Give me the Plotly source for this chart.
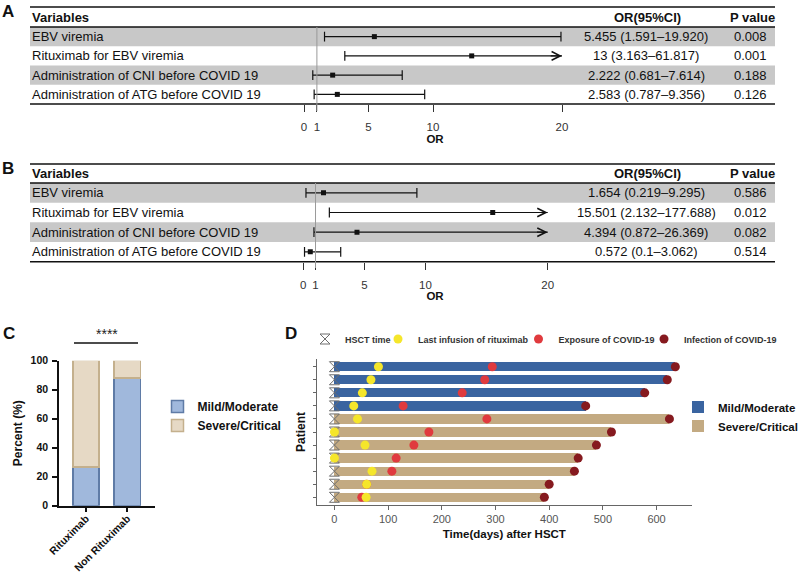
import plotly.graph_objects as go

W, H = 800, 573
FONT = "Liberation Sans, Arial, Helvetica, sans-serif"

###### Data #######
# A / B : odds ratios (forest plots)
variables = ["EBV viremia",
             "Rituximab for EBV viremia",
             "Administration of CNI before COVID 19",
             "Administration of ATG before COVID 19"]

a_or = [5.455, 13, 2.222, 2.583]
a_lo = [1.591, 3.163, 0.681, 0.787]
a_hi = [19.920, 61.817, 7.614, 9.356]
a_ci_text = ["5.455 (1.591\u201319.920)", "13 (3.163\u201361.817)",
             "2.222 (0.681\u20137.614)", "2.583 (0.787\u20139.356)"]
a_p = ["0.008", "0.001", "0.188", "0.126"]

b_or = [1.654, 15.501, 4.394, 0.572]
b_lo = [0.219, 2.132, 0.872, 0.1]
b_hi = [9.295, 177.688, 26.369, 3.062]
b_ci_text = ["1.654 (0.219\u20139.295)", "15.501 (2.132\u2013177.688)",
             "4.394 (0.872\u201326.369)", "0.572 (0.1\u20133.062)"]
b_p = ["0.586", "0.012", "0.082", "0.514"]

or_ticks = [0, 1, 5, 10, 20]
or_cap = 20

# C : severity by rituximab (percent)
c_groups = ["Rituximab", "Non Rituximab"]
c_mild = [26.7, 88.0]
c_severe = [73.3, 12.0]

# D : patient timelines (days after HSCT)
d_patient = list(range(1, 12))
d_severity = ["Mild/Moderate"] * 4 + ["Severe/Critical"] * 7
d_hsct = [0] * 11
d_rituximab = [82, 68, 52, 36, 43, 0, 57, 0, 70, 60, 59]
d_exposure = [294, 280, 238, 128, 284, 176, 148, 115, 107, 60, 51]
d_infection = [635, 620, 578, 468, 624, 516, 488, 454, 447, 400, 391]


def fx(p):
    return p / W


def fy(p):
    return 1 - p / H


def note(x, y, text, font, xref="paper", yref="paper", xanchor="center"):
    return dict(x=x, y=y, xref=xref, yref=yref, text=text, showarrow=False,
                xanchor=xanchor, yanchor="middle", font=font)


fig = go.Figure()
shapes = []
annotations = []
letter_font = dict(family=FONT, size=17, color="#111", weight="bold")

###### Forest plots #######
def forest(xa, ya, ors, los, his, ci_text, pvals, top, head_line, bottom, tick_bottom, letter):
    rows = list(range(1, len(ors) + 1))
    xs, ys = [], []
    for lo, hi, r in zip(los, his, rows):
        xs += [lo, min(hi, or_cap), None]
        ys += [r, r, None]
    fig.add_trace(go.Scatter(x=xs, y=ys, mode="lines", xaxis=xa, yaxis=ya,
                             line=dict(color="#111", width=1.2),
                             showlegend=False, hoverinfo="skip"))
    cap_x = los + [h for h in his if h <= or_cap]
    cap_y = rows + [r for h, r in zip(his, rows) if h <= or_cap]
    fig.add_trace(go.Scatter(x=cap_x, y=cap_y, mode="markers", xaxis=xa, yaxis=ya,
                             marker=dict(symbol="line-ns", size=7,
                                         line=dict(color="#111", width=1.2)),
                             showlegend=False, hoverinfo="skip"))
    fig.add_trace(go.Scatter(x=ors, y=rows, mode="markers", xaxis=xa, yaxis=ya,
                             marker=dict(symbol="square", size=5, color="#111"),
                             showlegend=False, hoverinfo="skip"))
    for hi, r in zip(his, rows):
        if hi > or_cap:
            annotations.append(dict(x=or_cap, y=r, ax=or_cap - 1, ay=r,
                                    xref=xa, yref=ya, axref=xa, ayref=ya,
                                    text="", showarrow=True, arrowhead=5,
                                    arrowsize=1.4, arrowwidth=1.2,
                                    arrowcolor="#111", standoff=0))
    # row shading
    for r in rows:
        if r % 2 == 1:
            shapes.append(dict(type="rect", xref="paper", yref=ya,
                               x0=fx(30), x1=fx(775), y0=r - 0.5, y1=r + 0.5,
                               fillcolor="#c8c8c8", line_width=0, layer="below"))
    # table rules
    for yy in (top, head_line, bottom):
        shapes.append(dict(type="line", xref="paper", yref="paper",
                           x0=fx(30), x1=fx(775), y0=fy(yy), y1=fy(yy),
                           line=dict(color="#111", width=1.5)))
    shapes.append(dict(type="line", xref=xa, yref="paper", x0=1, x1=1,
                       y0=fy(tick_bottom), y1=fy(head_line),
                       line=dict(color="#9a9a9a", width=1)))
    head_y = fy((top + head_line) / 2)
    hf = dict(family=FONT, size=13, color="#111", weight="bold")
    annotations.append(note(fx(30), head_y, "Variables", hf, xanchor="left"))
    annotations.append(note(fx(647), head_y, "OR(95%CI)", hf))
    annotations.append(note(fx(752), head_y, "P value", hf))
    rf = dict(family=FONT, size=13, color="#111")
    for name, ci, p, r in zip(variables, ci_text, pvals, rows):
        annotations.append(note(fx(30), r, name, rf, yref=ya, xanchor="left"))
        annotations.append(note(fx(646), r, ci, rf, yref=ya))
        annotations.append(note(fx(750), r, p, rf, yref=ya))
    annotations.append(note(fx(7.5), fy(top + 4), letter, letter_font))


forest("x", "y", a_or, a_lo, a_hi, a_ci_text, a_p, 7, 27, 104, 111, "A")
forest("x2", "y2", b_or, b_lo, b_hi, b_ci_text, b_p, 164, 183, 261.7, 268, "B")

###### C : stacked percent bars #######
fig.add_trace(go.Bar(x=c_groups, y=c_mild, name="Mild/Moderate", xaxis="x3", yaxis="y3",
                     width=0.64, marker=dict(color="#a0b8dc", line=dict(color="#5f7ba6", width=1.5)),
                     legend="legend2", hoverinfo="skip"))
fig.add_trace(go.Bar(x=c_groups, y=c_severe, name="Severe/Critical", xaxis="x3", yaxis="y3",
                     width=0.64, marker=dict(color="#e6d9c5", line=dict(color="#c4b08d", width=1.5)),
                     legend="legend2", hoverinfo="skip"))
shapes.append(dict(type="line", xref="paper", yref="paper", x0=fx(74), x1=fx(138),
                   y0=fy(343), y1=fy(343), line=dict(color="#111", width=1.5)))
annotations.append(note(fx(107), fy(334), "****",
                        dict(family=FONT, size=14, color="#222")))
annotations.append(note(fx(9), fy(333), "C", letter_font))

###### D : patient timelines #######
sev_colors = {"Mild/Moderate": "#3a64a0", "Severe/Critical": "#c3aa82"}
for sev, col in sev_colors.items():
    idx = [i for i, s in enumerate(d_severity) if s == sev]
    fig.add_trace(go.Bar(x=[d_infection[i] for i in idx], y=[d_patient[i] for i in idx],
                         orientation="h", name=sev, xaxis="x4", yaxis="y4", width=0.71,
                         marker=dict(color=col, line=dict(width=0)),
                         legend="legend3", hoverinfo="skip"))

dot_specs = [
    ("HSCT time", d_hsct, dict(symbol="hourglass-open", size=10, color="#6e6e6e",
                               line=dict(width=1)), "legend4"),
    ("Exposure of COVID-19", d_exposure, dict(symbol="circle", size=9, color="#e03a3e"), "legend6"),
    ("Last infusion of rituximab", d_rituximab, dict(symbol="circle", size=9, color="#f5e62b"), "legend5"),
    ("Infection of COVID-19", d_infection, dict(symbol="circle", size=9, color="#861a1f"), "legend7"),
]
for name, xs, mk, lg in dot_specs:
    fig.add_trace(go.Scatter(x=xs, y=d_patient, mode="markers", name=name, marker=mk,
                             xaxis="x4", yaxis="y4", legend=lg, cliponaxis=False,
                             hoverinfo="skip"))
annotations.append(note(fx(290.5), fy(333), "D", letter_font))

###### Layout #######
tick_f = dict(family=FONT, size=11.5, color="#333")
title_b = dict(family=FONT, size=11.5, color="#111", weight="bold")

forest_x = dict(showgrid=False, zeroline=False, showline=False, tickvals=or_ticks,
                ticks="outside", ticklen=7, tickwidth=1, tickcolor="#333",
                tickfont=tick_f, ticklabelstandoff=5,
                title=dict(text="OR", font=title_b, standoff=2))
forest_y = dict(visible=False, range=[4.5, 0.5], showgrid=False, zeroline=False)

leg_small = dict(family=FONT, size=9, color="#333", weight="bold")
leg_big = dict(family=FONT, size=12, color="#111", weight="bold")


def one_item_legend(cx, cy):
    return dict(x=fx(cx - 20), y=fy(cy), xanchor="left", yanchor="middle",
                bgcolor="rgba(0,0,0,0)", font=leg_small)


fig.update_layout(
    width=W, height=H,
    margin=dict(l=0, r=0, t=0, b=0, autoexpand=False),
    paper_bgcolor="white", plot_bgcolor="rgba(0,0,0,0)",
    font=dict(family=FONT, color="#111"),
    barmode="stack",
    xaxis=dict(forest_x, domain=[fx(290), fx(580)], range=[-1.085, 21.395], anchor="y"),
    yaxis=dict(forest_y, domain=[fy(104), fy(27)], anchor="x"),
    xaxis2=dict(forest_x, domain=[fx(290), fx(580)], range=[-1.088, 22.643], anchor="y2"),
    yaxis2=dict(forest_y, domain=[fy(261.7), fy(183)], anchor="x2"),
    xaxis3=dict(domain=[fx(59), fx(155)], range=[-0.654, 1.67], anchor="y3", type="category",
                showgrid=False, zeroline=False, showline=True, linecolor="#111", linewidth=1.5,
                ticks="outside", ticklen=5, tickwidth=1.5, tickcolor="#111", tickangle=-45,
                ticklabelstandoff=-4,
                tickfont=dict(family=FONT, size=10.5, color="#111", weight="bold")),
    yaxis3=dict(domain=[fy(505.7), fy(360.7)], range=[0, 100], anchor="x3", dtick=20,
                showgrid=False, zeroline=False, showline=True, linecolor="#111", linewidth=1.5,
                ticks="outside", ticklen=5, tickwidth=1.5, tickcolor="#111",
                ticklabelstandoff=2,
                tickfont=dict(family=FONT, size=10.5, color="#111", weight="bold"),
                title=dict(text="Percent (%)", standoff=5,
                           font=dict(family=FONT, size=12, color="#111", weight="bold"))),
    xaxis4=dict(domain=[fx(316.7), fx(692)], range=[-33, 666], anchor="y4",
                tickvals=[0, 100, 200, 300, 400, 500, 600],
                showgrid=False, zeroline=False, showline=True, linecolor="#666", linewidth=1,
                ticks="outside", ticklen=4, tickcolor="#666",
                tickfont=dict(family=FONT, size=11, color="#555"),
                title=dict(text="Time(days) after HSCT", standoff=5,
                           font=dict(family=FONT, size=11.5, color="#111", weight="bold"))),
    yaxis4=dict(domain=[fy(505), fy(359)], range=[11.59, 0.41], anchor="x4",
                tickvals=d_patient, showticklabels=False,
                showgrid=False, zeroline=False, showline=True, linecolor="#666", linewidth=1,
                ticks="outside", ticklen=3, tickcolor="#666",
                title=dict(text="Patient", standoff=4,
                           font=dict(family=FONT, size=12, color="#111", weight="bold"))),
    legend2=dict(x=fx(157.5), y=fy(392), xanchor="left", yanchor="top",
                 bgcolor="rgba(0,0,0,0)", font=leg_big, traceorder="normal"),
    legend3=dict(x=fx(678), y=fy(392.5), xanchor="left", yanchor="top",
                 bgcolor="rgba(0,0,0,0)", font=dict(leg_big, size=11.5), traceorder="normal"),
    legend4=one_item_legend(325, 339),
    legend5=one_item_legend(398, 339),
    legend6=one_item_legend(538.5, 339),
    legend7=one_item_legend(664, 339),
    shapes=shapes,
    annotations=annotations,
)

# the page's default body margin would shift the 800x573 figure off the window
fig.write_html("out.html", config={"displayModeBar": False},
               post_script="document.body.style.margin = '0';")
